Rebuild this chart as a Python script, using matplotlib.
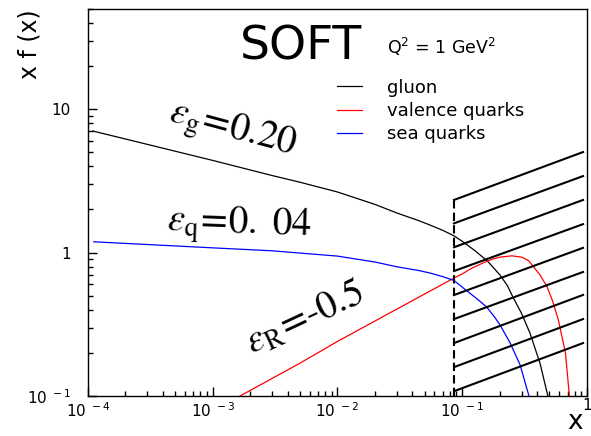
import numpy as np
import matplotlib
matplotlib.use("Agg")
import matplotlib.pyplot as plt
from matplotlib.ticker import NullFormatter

plt.rcParams['font.family'] = ['DejaVu Sans']
plt.rcParams['mathtext.fontset'] = 'dejavusans'

# values (x, x f(x)) at Q^2 = 1 GeV^2
gluon_x = [1.1e-4, 1e-3, 3e-3, 5e-3, 1e-2, 0.02, 0.03, 0.045, 0.055, 0.07, 0.086, 0.1,
           0.127, 0.16, 0.201, 0.23, 0.255, 0.3, 0.349, 0.42, 0.486, 0.52]
gluon_y = [7.05, 4.4, 3.45, 3.1, 2.65, 2.17, 1.89, 1.67, 1.56, 1.43, 1.31, 1.2,
           1.03, 0.87, 0.698, 0.59, 0.49, 0.375, 0.275, 0.17, 0.1, 0.075]

valence_x = [1.66e-3, 5.05e-3, 1e-2, 0.03, 0.086, 0.1, 0.12, 0.148, 0.175, 0.2, 0.25,
             0.3, 0.34, 0.372, 0.42, 0.479, 0.53, 0.59, 0.672, 0.723, 0.75]
valence_y = [0.1, 0.17, 0.24, 0.404, 0.665, 0.71, 0.78, 0.85, 0.9, 0.93, 0.95,
             0.93, 0.88, 0.80, 0.70, 0.578, 0.46, 0.339, 0.2, 0.1, 0.07]

sea_x = [1.12e-4, 1e-3, 3e-3, 1e-2, 0.02, 0.03, 0.045, 0.0552, 0.07, 0.086, 0.1, 0.13,
         0.157, 0.18, 0.201, 0.242, 0.291, 0.343, 0.36]
sea_y = [1.19, 1.08, 1.03, 0.946, 0.86, 0.797, 0.75, 0.721, 0.68, 0.639, 0.575, 0.48,
         0.418, 0.36, 0.313, 0.235, 0.165, 0.1, 0.08]

# hatched (excluded) region x > x_cut
x_cut = 0.086
x_hatch_end = 0.93
hatch_start = [2.33, 1.60, 1.09, 0.744, 0.506, 0.344, 0.234, 0.159, 0.108]
hatch_end = [5.03, 3.42, 2.33, 1.58, 1.08, 0.733, 0.507, 0.344, 0.234]

xticks = [1e-4, 1e-3, 1e-2, 1e-1, 1]
xticklabels = [r"$\mathregular{10^{\ -4}}$", r"$\mathregular{10^{\ -3}}$",
               r"$\mathregular{10^{\ -2}}$", r"$\mathregular{10^{\ -1}}$", ""]
yticks = [0.1, 1, 10]
yticklabels = [r"$\mathregular{10^{\ -1}}$", "1", "10"]

#%% plot
fig = plt.figure(figsize=(5.91, 4.36), dpi=100)
ax = fig.add_axes([0.1484, 0.0917, 0.8448, 0.8876])

l_g, = ax.plot(gluon_x, gluon_y, color='black', lw=0.9, label='gluon')
l_v, = ax.plot(valence_x, valence_y, color='#ff0000', lw=0.9, label='valence quarks')
l_s, = ax.plot(sea_x, sea_y, color='#0000ff', lw=0.9, label='sea quarks')

for y0, y1 in zip(hatch_start, hatch_end):
    ax.plot([x_cut, x_hatch_end], [y0, y1], color='black', lw=1.5)
ax.plot([x_cut, x_cut], [0.1, hatch_start[0]], color='black', lw=1.5, ls=(0, (4, 2)))

ax.set_xscale('log')
ax.set_yscale('log')
ax.set_xlim(1e-4, 1)
ax.set_ylim(0.1, 50)
ax.set_xticks(xticks)
ax.set_xticklabels(xticklabels, fontsize=11)
ax.set_yticks(yticks)
ax.set_yticklabels(yticklabels, fontsize=11)
ax.xaxis.set_minor_formatter(NullFormatter())
ax.yaxis.set_minor_formatter(NullFormatter())
ax.tick_params(which='both', direction='in', top=False, right=False, width=1)
ax.tick_params(which='major', length=6.5)
ax.tick_params(which='minor', length=3.6)
ax.tick_params(axis='x', pad=4)
ax.tick_params(axis='y', pad=12)
for s in ax.spines.values():
    s.set_linewidth(1)

ax.text(1.0, -0.006, "1", transform=ax.transAxes, ha='center', va='top', fontsize=11)

ax.legend(handles=[l_g, l_v, l_s], loc='upper left', bbox_to_anchor=(0.499, 0.82),
          frameon=False, fontsize=13, handlelength=1.39, handletextpad=1.39,
          labelspacing=0.29, borderpad=0, borderaxespad=0)

ax.text(0.428, 0.902, "SOFT", transform=ax.transAxes, ha='center', va='center',
        fontsize=34)
ax.text(0.600, 0.902, r"Q$^{2}$ = 1 GeV$^{2}$", transform=ax.transAxes,
        ha='left', va='center', fontsize=12.5)

ax.text(0.289, 0.687, r"$\varepsilon_{\mathrm{g}}\!=\!\mathit{0.20}$", transform=ax.transAxes,
        ha='center', va='center', rotation=-15, fontsize=28, math_fontfamily='stix')
ax.text(0.303, 0.442, r"$\varepsilon_{\mathrm{q}}\!=\!0.\ 04$", transform=ax.transAxes,
        ha='center', va='center', rotation=-2, fontsize=28, math_fontfamily='stix')
ax.text(0.435, 0.202, r"$\varepsilon_{\mathrm{R}}\!=\!\text{-}0.5$", transform=ax.transAxes,
        ha='center', va='center', rotation=25, fontsize=28, math_fontfamily='stix')

fig.text(30 / 591, 1 - 44 / 436, "x f (x)", rotation=90, ha='center', va='center', fontsize=17)
fig.text(575 / 591, 1 / 436, "x", ha='center', va='bottom', fontsize=19)

plt.savefig("out.png", dpi=100)
